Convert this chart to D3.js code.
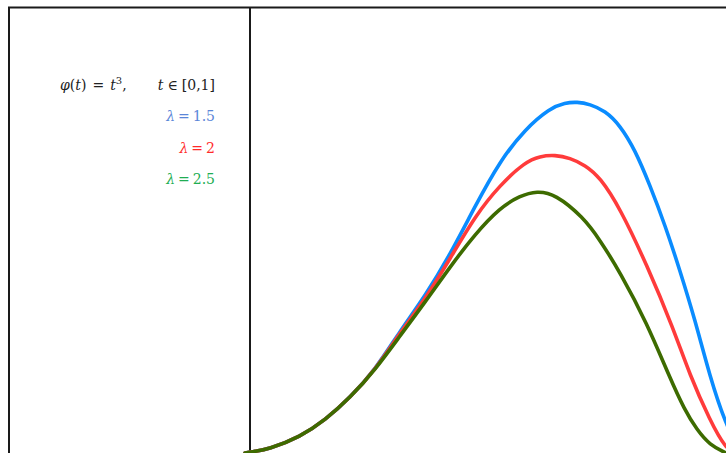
<!DOCTYPE html>
<html>
<head>
<meta charset="utf-8">
<script src="https://cdn.jsdelivr.net/npm/d3@7"></script>
<style>
  html, body { margin: 0; padding: 0; background: #fff; }
  svg { display: block; }
</style>
</head>
<body>
<svg id="chart" width="726" height="453"></svg>
<script>
// ---- data (abstract units: x in [0,10], y in [0,10]) ----
const commonX = [-0.105, 0.42, 1.05, 1.58, 2.10, 2.63];
const commonY = [0, 0.09, 0.36, 0.74, 1.24, 1.87];

const blueX = [3.15, 3.68, 4.20, 4.73, 5.25, 5.78, 6.30, 6.62, 6.87, 7.14, 7.46, 7.77, 8.09, 8.40, 8.72, 9.03, 9.35, 9.66, 10.0, 10.29];
const blueY = [2.74, 3.53, 4.45, 5.55, 6.56, 7.28, 7.75, 7.87, 7.89, 7.84, 7.69, 7.37, 6.81, 6.02, 5.12, 4.11, 2.99, 1.72, 0.62, 0.07];

const redX = [3.15, 3.68, 4.20, 4.73, 5.25, 5.78, 6.09, 6.41, 6.72, 7.04, 7.35, 7.77, 8.34, 8.89, 9.24, 9.66, 10.0, 10.29];
const redY = [2.70, 3.46, 4.36, 5.33, 6.02, 6.54, 6.67, 6.70, 6.63, 6.47, 6.20, 5.51, 4.22, 2.81, 1.75, 0.74, 0.07, -0.04];

const greenX = [3.15, 3.68, 4.20, 4.73, 5.25, 5.67, 6.03, 6.41, 7.00, 7.35, 7.77, 8.34, 8.82, 9.13, 9.39, 9.66, 10.0];
const greenY = [2.63, 3.39, 4.18, 4.92, 5.51, 5.78, 5.89, 5.82, 5.30, 4.79, 4.07, 2.92, 1.69, 0.97, 0.52, 0.18, 0];

const lambdaValues = ["1.5", "2", "2.5"];

// ---- layout ----
const svg = d3.select("#chart");
const x = d3.scaleLinear().domain([0, 10]).range([250, 726]);
const y = d3.scaleLinear().domain([0, 10]).range([453, 8]);

const series = [
  { lam: lambdaValues[0], xs: blueX, ys: blueY, color: "#0a8cff", label: "#5a86d8" },
  { lam: lambdaValues[1], xs: redX, ys: redY, color: "#ff3b3b", label: "#ff2a2a" },
  { lam: lambdaValues[2], xs: greenX, ys: greenY, color: "#3d6b00", label: "#20ad52" }
];

// frame
svg.append("line").attr("x1", 8).attr("x2", 726).attr("y1", 7.5).attr("y2", 7.5)
  .attr("stroke", "#1a1a1a").attr("stroke-width", 2);
svg.append("line").attr("x1", 9).attr("x2", 9).attr("y1", 7).attr("y2", 453)
  .attr("stroke", "#1a1a1a").attr("stroke-width", 2);
svg.append("line").attr("x1", x(0)).attr("x2", x(0)).attr("y1", 7).attr("y2", 453)
  .attr("stroke", "#1a1a1a").attr("stroke-width", 2);

// curves
const line = d3.line()
  .x(d => x(d[0])).y(d => y(d[1]))
  .curve(d3.curveBasis);

series.forEach(s => {
  const pts = commonX.map((v, i) => [v, commonY[i]])
    .concat(s.xs.map((v, i) => [v, s.ys[i]]));
  svg.append("path")
    .datum(pts)
    .attr("d", line)
    .attr("fill", "none")
    .attr("stroke", s.color)
    .attr("stroke-width", 3.6)
    .attr("stroke-linecap", "round");
});

// text block
const fontFam = "'DejaVu Serif', 'Liberation Serif', serif";
const fs = 14;
const t1 = svg.append("text").attr("x", 60).attr("y", 90)
  .attr("font-family", fontFam).attr("font-size", fs).attr("fill", "#222");
t1.append("tspan").attr("font-style", "italic").text("φ");
t1.append("tspan").text("(");
t1.append("tspan").attr("font-style", "italic").text("t");
t1.append("tspan").text(")");
t1.append("tspan").attr("dx", 6).text("=");
t1.append("tspan").attr("dx", 6).attr("font-style", "italic").text("t");
t1.append("tspan").attr("font-size", 10).attr("dy", -6).text("3");
t1.append("tspan").attr("dy", 6).text(",");

const t2 = svg.append("text").attr("x", 215).attr("y", 90).attr("text-anchor", "end")
  .attr("font-family", fontFam).attr("font-size", fs).attr("fill", "#222");
t2.append("tspan").attr("font-style", "italic").text("t");
t2.append("tspan").attr("dx", 4).text("∈");
t2.append("tspan").attr("dx", 4).text("[0,1]");

series.forEach((s, i) => {
  const t = svg.append("text").attr("x", 215).attr("y", 121 + i * 31.5)
    .attr("text-anchor", "end")
    .attr("font-family", fontFam).attr("font-size", fs).attr("fill", s.label);
  t.append("tspan").attr("font-style", "italic").text("λ");
  t.append("tspan").attr("dx", 3).text("=");
  t.append("tspan").attr("dx", 3).text(s.lam);
});
</script>
</body>
</html>
